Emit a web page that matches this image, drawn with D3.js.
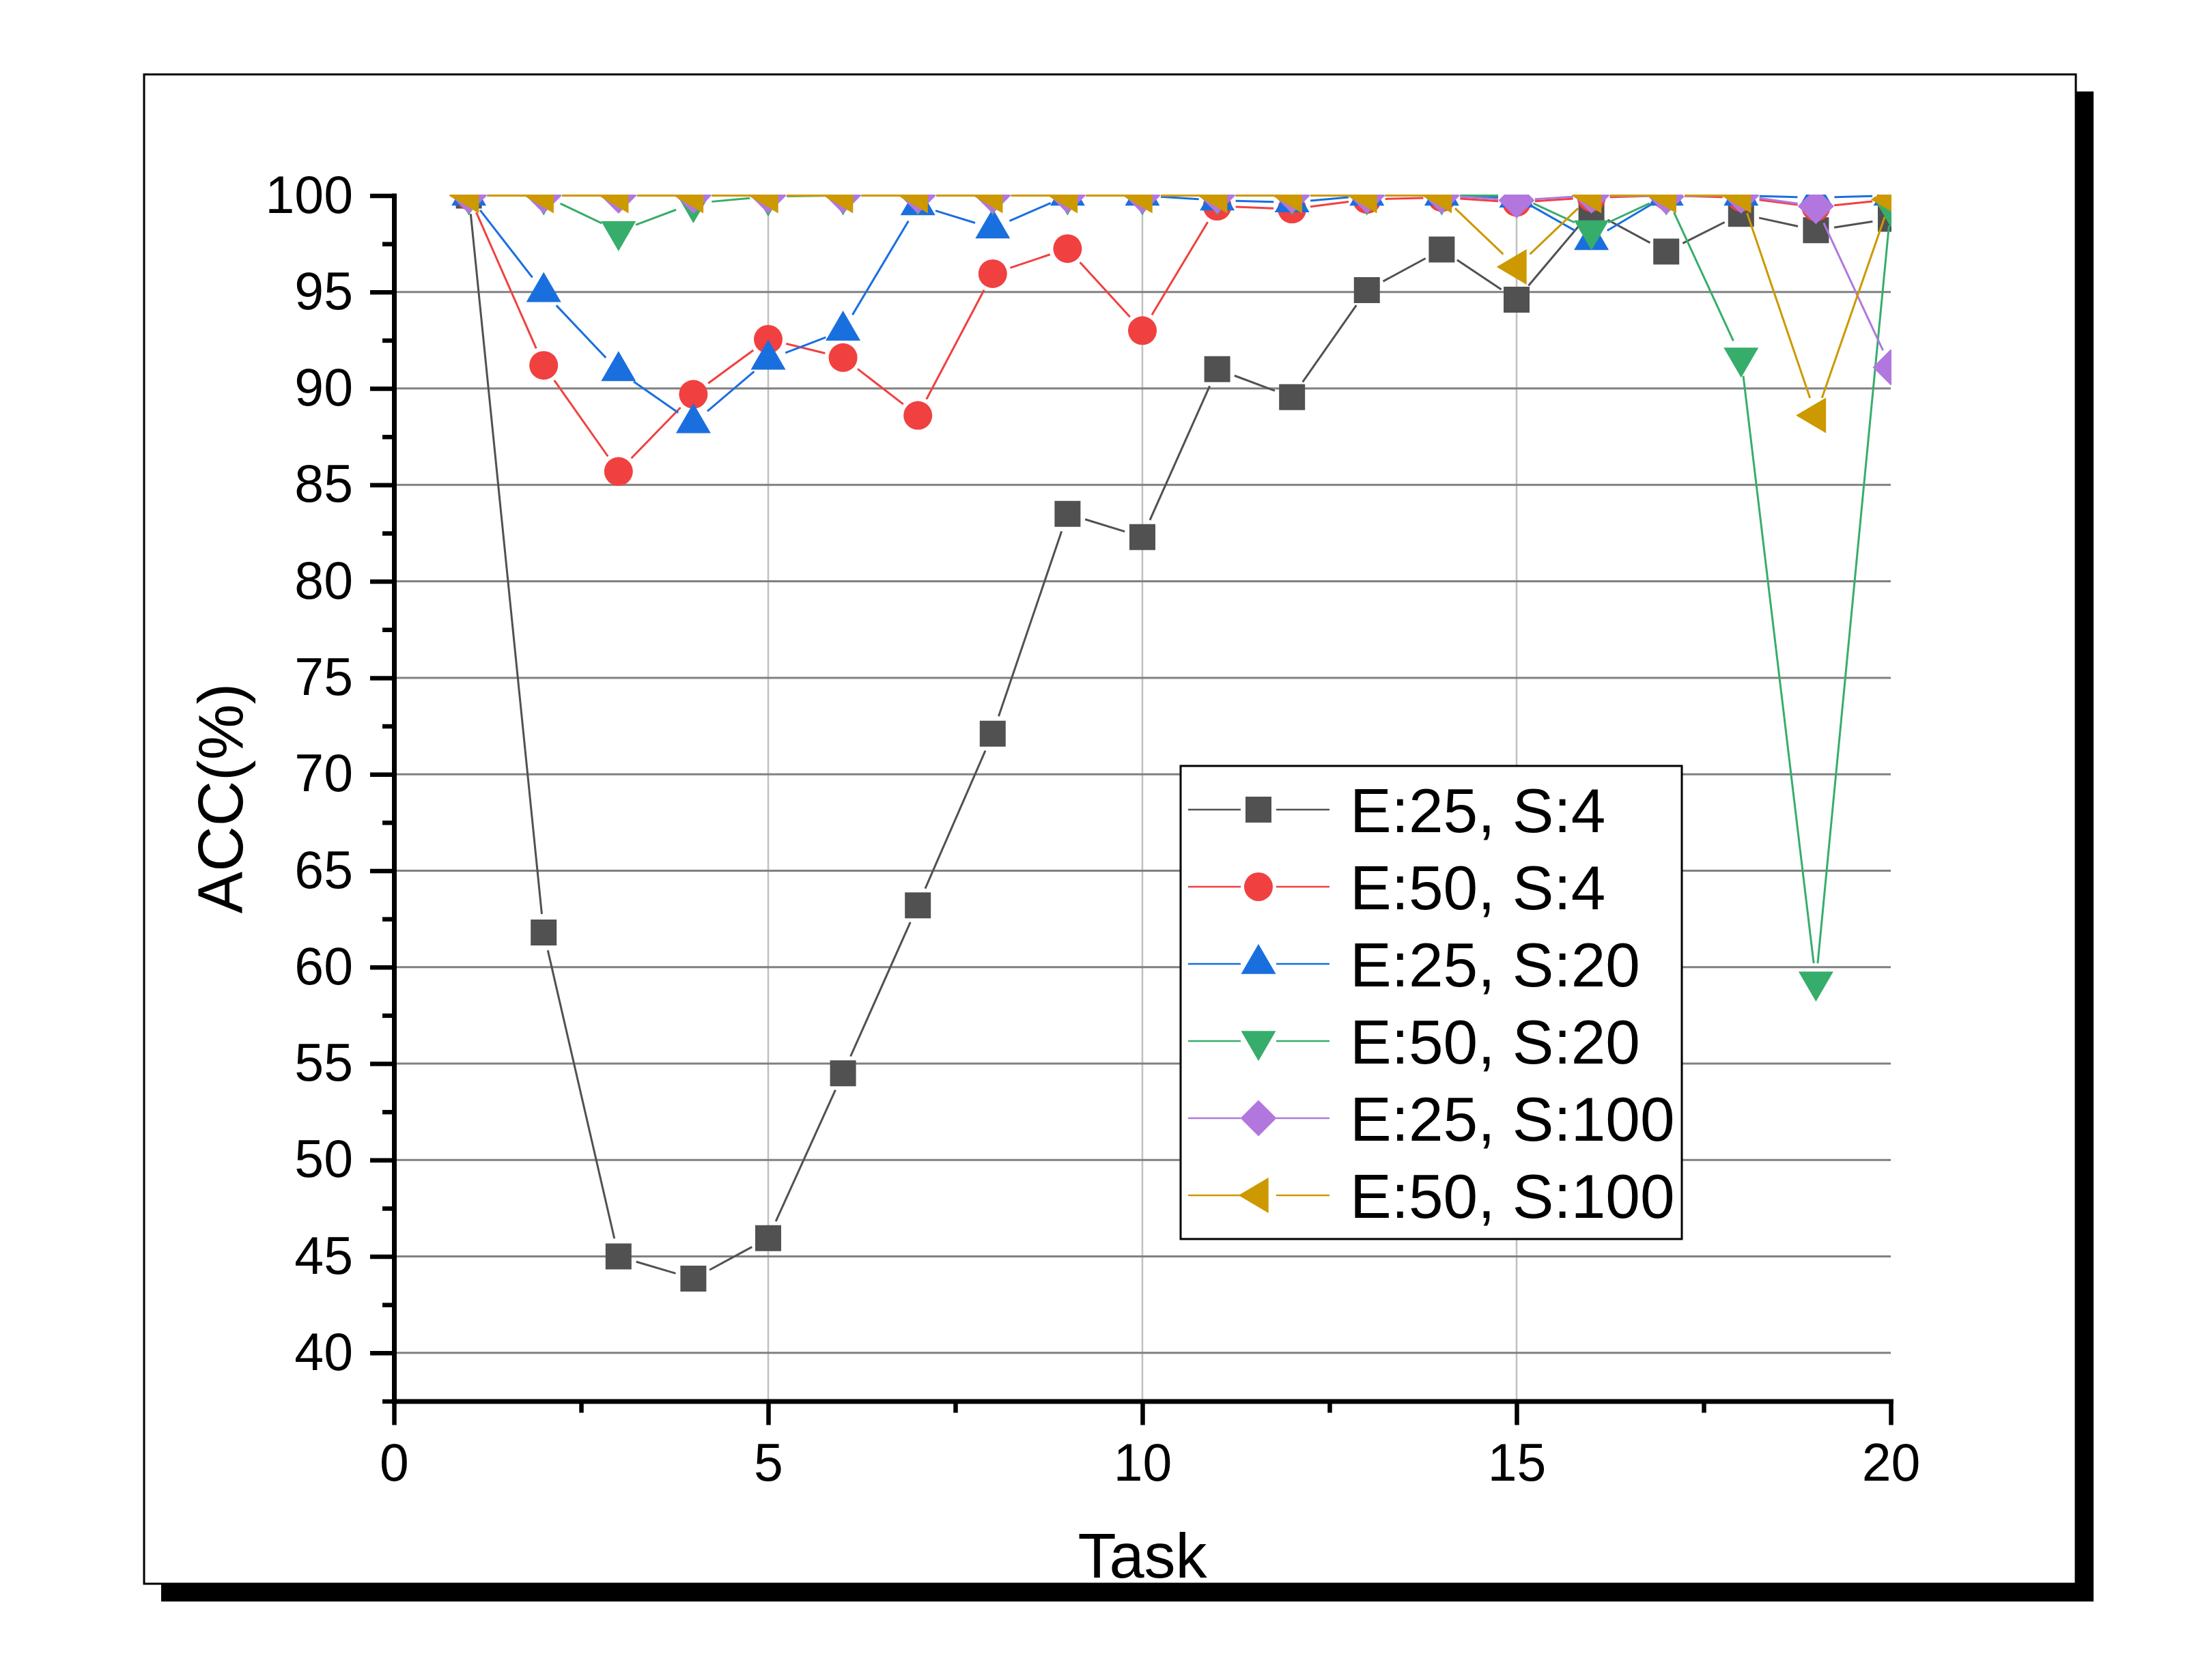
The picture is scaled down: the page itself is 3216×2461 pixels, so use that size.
<!DOCTYPE html>
<html>
<head>
<meta charset="utf-8">
<script src="https://cdn.jsdelivr.net/npm/d3@7"></script>
<style>
  body { margin: 0; background: #fff; }
  svg text { font-family: "Liberation Sans", Arial, sans-serif; fill: #000; }
</style>
</head>
<body>
<div id="chart"></div>
<script>
// values
const tasks = [1, 2, 3, 4, 5, 6, 7, 8, 9, 10, 11, 12, 13, 14, 15, 16, 17, 18, 19, 20];
const accE25S4 = [100, 61.8, 45.0, 43.85, 45.95, 54.5, 63.2, 72.1, 83.5, 82.3, 91.0, 89.55, 95.1, 97.2, 94.6, 99.2, 97.1, 99.05, 98.2, 98.8];
const accE50S4 = [100, 91.2, 85.7, 89.7, 92.55, 91.6, 88.6, 95.95, 97.25, 93.0, 99.45, 99.3, 99.8, 99.9, 99.65, 99.9, 100, 99.9, 99.4, 99.8];
const accE25S20 = [100, 95.0, 90.9, 88.2, 91.5, 93.0, 99.5, 98.3, 100, 100, 99.75, 99.65, 100, 100, 99.9, 97.7, 100, 100, 99.9, 100];
const accE50S20 = [100, 100, 98.15, 99.6, 99.95, 100, 100, 100, 100, 100, 100, 100, 100, 100, 100, 98.2, 100, 91.6, 59.25, 99.4];
const accE25S100 = [100, 100, 100, 100, 100, 100, 100, 100, 100, 100, 100, 100, 100, 100, 99.75, 100, 99.95, 100, 99.45, 91.1];
const accE50S100 = [100, 100, 100, 100, 100, 100, 100, 100, 100, 100, 100, 100, 100, 100, 96.3, 100, 100, 100, 88.6, 99.8];

const seriesLabels = ["E:25, S:4", "E:50, S:4", "E:25, S:20", "E:50, S:20", "E:25, S:100", "E:50, S:100"];
const seriesValues = [accE25S4, accE50S4, accE25S20, accE50S20, accE25S100, accE50S100];
const seriesColors = ["#515151", "#F14040", "#1A6FDF", "#37AD6B", "#B177DE", "#CC9900"];
const seriesShapes = ["square", "circle", "triangleUp", "triangleDown", "diamond", "triangleLeft"];

const yMajorTicks = [40, 45, 50, 55, 60, 65, 70, 75, 80, 85, 90, 95, 100];
const yMinorTicks = [37.5, 42.5, 47.5, 52.5, 57.5, 62.5, 67.5, 72.5, 77.5, 82.5, 87.5, 92.5, 97.5];
const yGridTicks = [40, 45, 50, 55, 60, 65, 70, 75, 80, 85, 90, 95];
const xMajorTicks = [0, 5, 10, 15, 20];
const xMinorTicks = [2.5, 7.5, 12.5, 17.5];
const xGridTicks = [5, 10, 15];

const W = 3216, H = 2461;
const plotLeft = 577, plotRight = 2769, plotTop = 286.5, plotBottom = 2052.5;
const gap = 27; // Origin leaves a gap between line and symbol

const svg = d3.select("#chart").append("svg")
  .attr("width", W)
  .attr("height", H)
  .attr("viewBox", [0, 0, W, H]);

svg.append("rect").attr("width", W).attr("height", H).attr("fill", "#fff");

// page frame with drop shadow
svg.append("rect")
  .attr("x", 236).attr("y", 134)
  .attr("width", 2830).attr("height", 2212)
  .attr("fill", "#000");
svg.append("rect")
  .attr("x", 211).attr("y", 109)
  .attr("width", 2829).attr("height", 2211)
  .attr("fill", "#fff")
  .attr("stroke", "#000")
  .attr("stroke-width", 3);

const x = d3.scaleLinear().domain([0, 20]).range([plotLeft, plotRight]);
const y = d3.scaleLinear().domain([37.5, 100]).range([plotBottom, plotTop]);

// grid
svg.append("g")
  .selectAll("line")
  .data(xGridTicks)
  .join("line")
    .attr("x1", d => x(d)).attr("x2", d => x(d))
    .attr("y1", plotTop).attr("y2", plotBottom)
    .attr("stroke", "#c0c0c0")
    .attr("stroke-width", 2.5);

svg.append("g")
  .selectAll("line")
  .data(yGridTicks)
  .join("line")
    .attr("x1", plotLeft).attr("x2", plotRight)
    .attr("y1", d => y(d)).attr("y2", d => y(d))
    .attr("stroke", "#808080")
    .attr("stroke-width", 3);

function shapePath(shape) {
  const p = d3.path();
  if (shape === "square") {
    p.rect(-19, -19, 38, 38);
  } else if (shape === "circle") {
    p.arc(0, 0, 21, 0, 2 * Math.PI);
  } else if (shape === "triangleUp") {
    p.moveTo(0, -29.3); p.lineTo(25.5, 14.7); p.lineTo(-25.5, 14.7); p.closePath();
  } else if (shape === "triangleDown") {
    p.moveTo(0, 29.3); p.lineTo(25.5, -14.7); p.lineTo(-25.5, -14.7); p.closePath();
  } else if (shape === "diamond") {
    p.moveTo(0, -26.5); p.lineTo(26.5, 0); p.lineTo(0, 26.5); p.lineTo(-26.5, 0); p.closePath();
  } else if (shape === "triangleLeft") {
    p.moveTo(-29.3, 0); p.lineTo(14.7, -26); p.lineTo(14.7, 26); p.closePath();
  }
  return p.toString();
}

// cut each segment short of the symbols at both ends
function gappedSegments(points, g) {
  const segs = [];
  for (let i = 0; i < points.length - 1; i++) {
    const [x1, y1] = points[i];
    const [x2, y2] = points[i + 1];
    const dx = x2 - x1, dy = y2 - y1;
    const len = Math.hypot(dx, dy);
    if (len <= 2 * g) continue;
    const ux = dx / len, uy = dy / len;
    segs.push([x1 + ux * g, y1 + uy * g, x2 - ux * g, y2 - uy * g]);
  }
  return segs;
}

svg.append("clipPath").attr("id", "plot-clip")
  .append("rect")
    .attr("x", plotLeft).attr("y", plotTop - 1.5)
    .attr("width", plotRight - plotLeft + 1).attr("height", plotBottom - plotTop + 1.5);

const plot = svg.append("g").attr("clip-path", "url(#plot-clip)");

seriesValues.forEach((vals, s) => {
  const pts = tasks.map((t, i) => [x(t), y(vals[i])]);
  const g = plot.append("g");
  g.selectAll("line")
    .data(gappedSegments(pts, gap))
    .join("line")
      .attr("x1", d => d[0]).attr("y1", d => d[1])
      .attr("x2", d => d[2]).attr("y2", d => d[3])
      .attr("stroke", seriesColors[s])
      .attr("stroke-width", 3);
  g.selectAll("path")
    .data(pts)
    .join("path")
      .attr("d", shapePath(seriesShapes[s]))
      .attr("transform", d => `translate(${d[0]},${d[1]})`)
      .attr("fill", seriesColors[s]);
});

// axes
function styleAxis(g, width) {
  g.select(".domain")
    .attr("stroke", "#000")
    .attr("stroke-width", 7)
    .attr("stroke-linecap", "square");
  g.selectAll(".tick line").attr("stroke", "#000").attr("stroke-width", width);
  g.selectAll(".tick text")
    .attr("font-family", "'Liberation Sans', Arial, sans-serif")
    .attr("font-size", 77)
    .attr("fill", "#000");
}

svg.append("g")
  .attr("transform", `translate(${plotLeft},0)`)
  .call(d3.axisLeft(y).tickValues(yMinorTicks).tickSize(17).tickSizeOuter(0).tickFormat(""))
  .call(g => g.select(".domain").remove())
  .call(g => styleAxis(g, 6.5));

svg.append("g")
  .attr("transform", `translate(0,${plotBottom})`)
  .call(d3.axisBottom(x).tickValues(xMinorTicks).tickSize(17).tickSizeOuter(0).tickFormat(""))
  .call(g => g.select(".domain").remove())
  .call(g => styleAxis(g, 6.5));

svg.append("g")
  .attr("transform", `translate(${plotLeft},0)`)
  .call(d3.axisLeft(y).tickValues(yMajorTicks).tickSize(35).tickSizeOuter(0).tickPadding(25).tickFormat(d3.format("d")))
  .call(g => styleAxis(g, 6.5));

svg.append("g")
  .attr("transform", `translate(0,${plotBottom})`)
  .call(d3.axisBottom(x).tickValues(xMajorTicks).tickSize(35).tickSizeOuter(0).tickPadding(27).tickFormat(d3.format("d")))
  .call(g => styleAxis(g, 6.5));

// axis titles
svg.append("text")
  .attr("transform", `translate(355,${(plotTop + plotBottom) / 2}) rotate(-90)`)
  .attr("text-anchor", "middle")
  .attr("font-size", 92)
  .text("ACC(%)");

svg.append("text")
  .attr("x", (plotLeft + plotRight) / 2)
  .attr("y", 2311)
  .attr("text-anchor", "middle")
  .attr("font-size", 92)
  .text("Task");

// legend
const legend = svg.append("g");
legend.append("rect")
  .attr("x", 1729).attr("y", 1122)
  .attr("width", 734).attr("height", 693)
  .attr("fill", "#fff")
  .attr("stroke", "#000")
  .attr("stroke-width", 3);

const rows = legend.selectAll("g.row")
  .data(seriesLabels)
  .join("g")
    .attr("class", "row")
    .attr("transform", (d, i) => `translate(1843,${1186 + i * 113})`);

rows.append("line")
  .attr("x1", -103).attr("x2", -gap + 1)
  .attr("stroke", (d, i) => seriesColors[i])
  .attr("stroke-width", 2.5);
rows.append("line")
  .attr("x1", gap - 1).attr("x2", 104)
  .attr("stroke", (d, i) => seriesColors[i])
  .attr("stroke-width", 2.5);
rows.append("path")
  .attr("d", (d, i) => shapePath(seriesShapes[i]))
  .attr("fill", (d, i) => seriesColors[i]);
rows.append("text")
  .attr("x", 134)
  .attr("dy", "0.36em")
  .attr("font-size", 91)
  .text(d => d);
</script>
</body>
</html>
